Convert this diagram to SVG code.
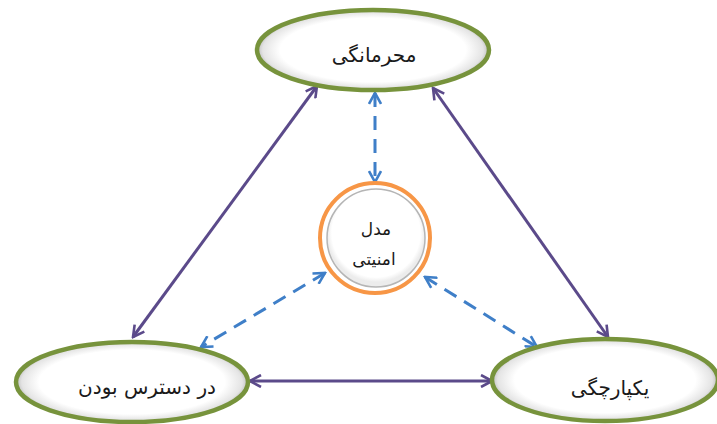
<svg xmlns="http://www.w3.org/2000/svg" width="717" height="424" viewBox="0 0 717 424">
<style>
.oval{fill:url(#og);stroke:#77933c;stroke-width:4.5}
.lbl{font-family:"DejaVu Sans","Noto Sans",sans-serif;font-size:20px;fill:#1a1a1a;text-anchor:middle}
.sm{font-size:17px}
.solid{stroke:#5b4a8a;stroke-width:3;fill:none;marker-start:url(#pa);marker-end:url(#pa)}
.dash{stroke:#3f7fc8;stroke-width:3;fill:none;stroke-dasharray:14 9;marker-start:url(#ba);marker-end:url(#ba)}
</style>
<defs>
<radialGradient id="og" cx="0.5" cy="0.5" r="0.5">
<stop offset="0" stop-color="#ffffff"/>
<stop offset="0.8" stop-color="#ffffff"/>
<stop offset="0.95" stop-color="#e4e4e4"/>
<stop offset="1" stop-color="#bdbdbd"/>
</radialGradient>
<radialGradient id="cg" cx="0.5" cy="0.45" r="0.5">
<stop offset="0" stop-color="#ffffff"/>
<stop offset="0.9" stop-color="#ffffff"/>
<stop offset="1" stop-color="#ececec"/>
</radialGradient>
<marker id="pa" viewBox="0 0 14 14" refX="12" refY="7" markerWidth="14" markerHeight="14" markerUnits="userSpaceOnUse" orient="auto-start-reverse">
<path d="M1,1 L12,7 L1,13" fill="none" stroke="#5b4a8a" stroke-width="2.6" stroke-linejoin="miter"/>
</marker>
<marker id="ba" viewBox="0 0 14 14" refX="12" refY="7" markerWidth="14" markerHeight="14" markerUnits="userSpaceOnUse" orient="auto-start-reverse">
<path d="M1,1 L12,7 L1,13" fill="none" stroke="#3f7fc8" stroke-width="2.6"/>
</marker>
</defs>
<g id="connectors">
<line class="solid" x1="317" y1="86" x2="133" y2="337"/>
<line class="solid" x1="433" y1="88" x2="608" y2="337"/>
<line class="solid" x1="250" y1="381" x2="492" y2="381"/>
<line class="dash" x1="375" y1="93" x2="375" y2="182"/>
<line class="dash" x1="325" y1="273" x2="201" y2="347"/>
<line class="dash" x1="425" y1="277" x2="537" y2="347"/>
</g>
<g id="node-top">
<ellipse class="oval" cx="373" cy="50" rx="116" ry="40"/>
<text class="lbl" x="374" y="62">محرمانگی</text>
</g>
<g id="node-left">
<ellipse class="oval" cx="132" cy="382" rx="116" ry="40"/>
<text class="lbl" x="147" y="394">در دسترس بودن</text>
</g>
<g id="node-right">
<ellipse class="oval" cx="605" cy="380" rx="113" ry="41"/>
<text class="lbl" x="610" y="395">یکپارچگی</text>
</g>
<g id="node-center">
<circle cx="375" cy="238" r="55" fill="#fff" stroke="#f79646" stroke-width="4"/>
<circle cx="376" cy="238" r="49" fill="url(#cg)" stroke="#b5b5b5" stroke-width="1.5"/>
<text class="lbl sm" x="376" y="235">مدل</text>
<text class="lbl sm" x="374" y="265">امنیتی</text>
</g>
</svg>
